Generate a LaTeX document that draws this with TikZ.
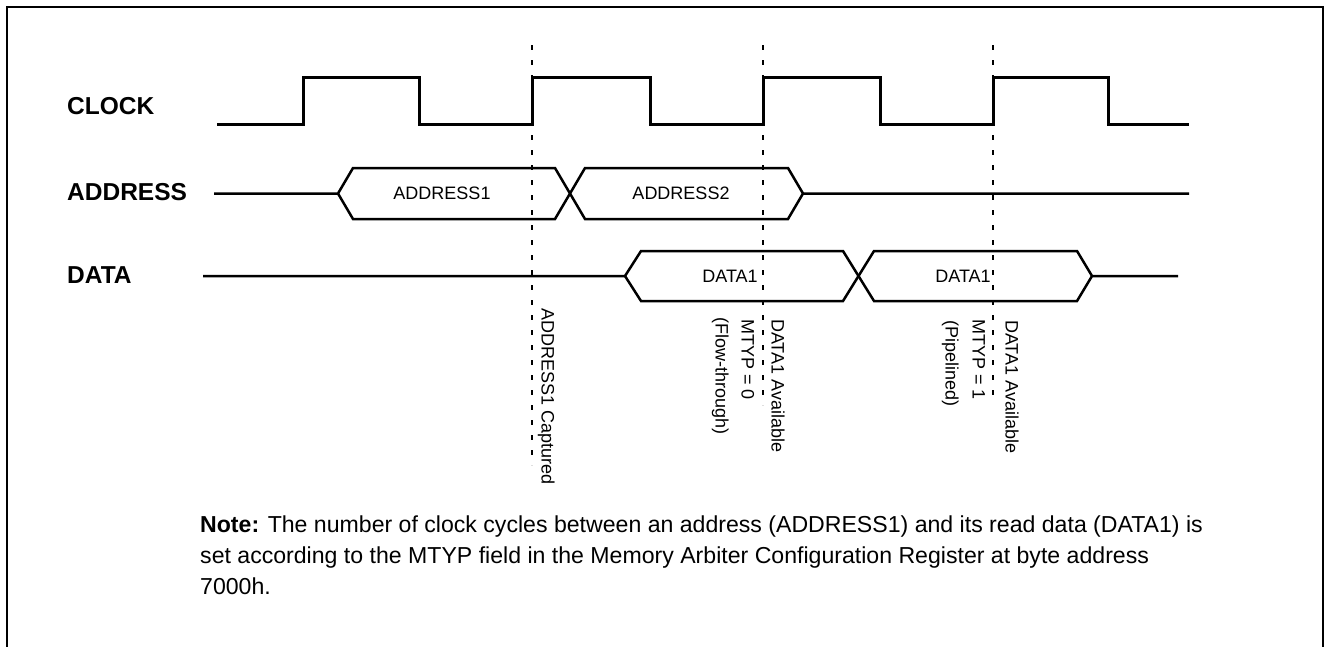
\documentclass[tikz,border=0pt]{standalone}
\usepackage{fontspec}
\setmainfont{Liberation Sans}
\begin{document}
\begin{tikzpicture}[x=1pt,y=-1pt,
  sig/.style={line width=3pt, line join=miter},
  bus/.style={line width=2.5pt, line join=miter},
  guide/.style={line width=2pt, dash pattern=on 5pt off 10pt},
  frame/.style={line width=2pt},
  lbl/.style={font=\fontsize{24.5}{28}\selectfont\bfseries, anchor=base west, inner sep=0pt},
  val/.style={font=\fontsize{18}{21}\selectfont, inner sep=0pt},
  vtxt/.style={font=\fontsize{18}{21}\selectfont, rotate=-90, anchor=base west, inner sep=0pt},
  note/.style={font=\fontsize{23.1}{31}\selectfont, anchor=north west, align=left, inner sep=0pt}
]
\useasboundingbox (0,0) rectangle (1324,646);
% frame (open at the bottom)
\draw[frame] (7,700) -- (7,7) -- (1322.5,7) -- (1322.5,700);

% row labels
\node[lbl] (lclk) at (67,114) {CLOCK};
\node[lbl] (ladr) at (67,200) {ADDRESS};
\node[lbl] (ldat) at (67,283) {DATA};

% guide lines
\coordinate (g1t) at (532,45); \coordinate (g1b) at (532,465);
\coordinate (g2t) at (763,45); \coordinate (g2b) at (763,405);
\coordinate (g3t) at (993,45); \coordinate (g3b) at (993,400);
\draw[guide] (g1t) -- (g1b);
\draw[guide] (g2t) -- (g2b);
\draw[guide] (g3t) -- (g3b);

% clock
\draw[sig] (217,124) -- (303,124) -- (303,77) -- (419,77) -- (419,124) -- (532,124)
  -- (532,77) -- (650,77) -- (650,124) -- (763,124) -- (763,77) -- (880,77)
  -- (880,124) -- (993,124) -- (993,77) -- (1108,77) -- (1108,124) -- (1189,124);

% address bus
\draw[bus] (214,193.5) -- (338,193.5) -- (353,168) -- (555,168) -- (585,219) -- (788,219) -- (803,193.5) -- (1189,193.5);
\draw[bus] (338,193.5) -- (353,219) -- (555,219) -- (585,168) -- (788,168) -- (803,193.5);
\node[val] (a1) at (442,193.5) {ADDRESS1};
\node[val] (a2) at (681,193.5) {ADDRESS2};

% data bus
\draw[bus] (203,276) -- (625,276) -- (641,251) -- (843,251) -- (874,301) -- (1077,301) -- (1092,276) -- (1178,276);
\draw[bus] (625,276) -- (641,301) -- (843,301) -- (874,251) -- (1077,251) -- (1092,276);
\node[val] (d1) at (730,276) {DATA1};
\node[val] (d2) at (963,276) {DATA1};

% vertical annotations
\node[vtxt] (c1) at (541.5,308) {ADDRESS1 Captured};
\node[vtxt] (v1) at (771.5,319) {DATA1 Available};
\node[vtxt] (m0) at (741.5,319) {MTYP = 0};
\node[vtxt] (f0) at (715.5,317) {(Flow-through)};
\node[vtxt] (v2) at (1005.5,320) {DATA1 Available};
\node[vtxt] (m1) at (972.5,319) {MTYP = 1};
\node[vtxt] (p1) at (945.5,320) {(Pipelined)};

% note
\node[note] (nt) at (200,516) {\textbf{Note:} The number of clock cycles between an address (ADDRESS1) and its read data (DATA1) is\\
set according to the MTYP field in the Memory Arbiter Configuration Register at byte address\\
7000h.};
\end{tikzpicture}
\end{document}
